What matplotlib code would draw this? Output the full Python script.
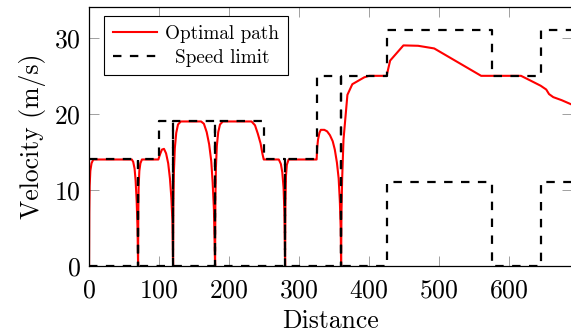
# -*- coding: utf-8 -*-
"""
Optimal velocity profile against the speed limit along the track.
"""

import matplotlib
matplotlib.use('Agg')
import matplotlib.pyplot as plt

plt.rcParams['font.family'] = 'cmr10'
plt.rcParams['axes.formatter.use_mathtext'] = True

# optimal path (distance, velocity)
path_dist = [0, 0.3, 0.8, 1.8, 3.5, 6,
             61, 63, 65, 66.5, 68, 69.2, 70,
             70.3, 70.8, 71.8, 73.3, 75.5,
             99, 101, 104, 107, 110, 113, 115.5, 117.5, 119, 120,
             120.4, 121.2, 122.5, 124.5, 127, 131,
             160, 164, 168, 171.5, 174.5, 176.5, 178.3, 180,
             180.4, 181.2, 182.5, 184.5, 187, 191,
             232, 237, 241, 245, 247.5, 249.5,
             271, 274, 276, 277.8, 279, 280,
             280.4, 281.2, 282.5, 285,
             325, 325.8, 327, 329, 331, 336, 340, 344, 348, 351, 354,
             356.5, 358.2, 359.4, 360,
             360.5, 361.5, 363.4, 369, 376, 393, 400,
             425, 430, 449, 470, 493, 560, 617,
             630, 645, 653, 657, 663, 675, 690]
path_vel = [0, 7, 10.5, 12.5, 13.5, 14,
            14, 13.7, 12.8, 11.2, 8.5, 5, 0,
            7, 10.5, 12.5, 13.5, 14,
            14, 14.6, 15.3, 15.4, 14.8, 13.5, 11.5, 9, 6, 0,
            8, 12.5, 15.5, 17.5, 18.6, 19,
            19, 18.7, 17.6, 16, 13.8, 11, 7.5, 0,
            8.5, 13, 15.8, 17.6, 18.6, 19,
            19, 18.5, 17.4, 16.1, 14.8, 14,
            14, 13.4, 12.3, 10.3, 7, 0,
            8, 11.8, 13.3, 14,
            14, 15.5, 16.6, 17.5, 17.9, 17.9, 17.7, 17.2, 16.4, 15.3, 13.6,
            11.5, 8.5, 5, 0,
            7, 11.5, 16.6, 22.5, 23.9, 24.8, 25,
            25, 27, 29, 28.95, 28.6, 25, 25,
            24.4, 23.7, 23.2, 22.6, 22.2, 21.8, 21.2]

# upper speed limit, drops to zero at the stops
upper_dist = [0, 70, 70, 70, 100, 100, 120, 120, 120, 180, 180, 180,
              250, 250, 280, 280, 280, 325, 325, 360, 360, 360,
              425, 425, 575, 575, 645, 645, 690]
upper_vel = [14, 14, 0, 14, 14, 19, 19, 0, 19, 19, 0, 19,
             19, 14, 14, 0, 14, 14, 25, 25, 0, 25,
             25, 31, 31, 25, 25, 31, 31]

# lower speed limit
lower_dist = [0, 425, 425, 575, 575, 645, 645, 690]
lower_vel = [0, 0, 11, 11, 0, 0, 11, 11]

xticks = [0, 100, 200, 300, 400, 500, 600]
yticks = [0, 10, 20, 30]

fig = plt.figure(figsize=(5.71, 3.35), dpi=100)
ax = fig.add_axes([0.156, 0.206, 0.846, 0.772])

dash = (0, (3.8, 3.8))
ax.plot(path_dist, path_vel, color='red', lw=1.5, label='Optimal path',
        solid_joinstyle='round')
ax.plot(upper_dist, upper_vel, color='black', lw=1.6, linestyle=dash,
        label='Speed limit')
ax.plot(lower_dist, lower_vel, color='black', lw=1.6, linestyle=dash)

ax.set_xlim(0, 690)
ax.set_ylim(0, 34)
ax.set_xticks(xticks)
ax.set_yticks(yticks)
ax.tick_params(direction='in', length=7, width=0.7, color='#a0a0a0',
               top=True, right=True, labelsize=18.5)
ax.tick_params(axis='x', pad=9)
ax.tick_params(axis='y', pad=6)
for sp in ax.spines.values():
    sp.set_linewidth(0.9)

ax.set_xlabel('Distance', fontsize=18.5, labelpad=5)
ax.set_ylabel('Velocity (m/s)', fontsize=18.5, labelpad=6)

leg = ax.legend(loc='upper left', bbox_to_anchor=(0.0307, 0.966),
                borderaxespad=0, fontsize=13.8, fancybox=False,
                framealpha=1, edgecolor='black', handlelength=2.3,
                handletextpad=0.45, labelspacing=0.3, borderpad=0.45)
leg.get_frame().set_linewidth(0.8)
# pgfplots centres the legend entries
leg.get_texts()[1].set_x(9.5)

fig.savefig('out.png', dpi=100)
